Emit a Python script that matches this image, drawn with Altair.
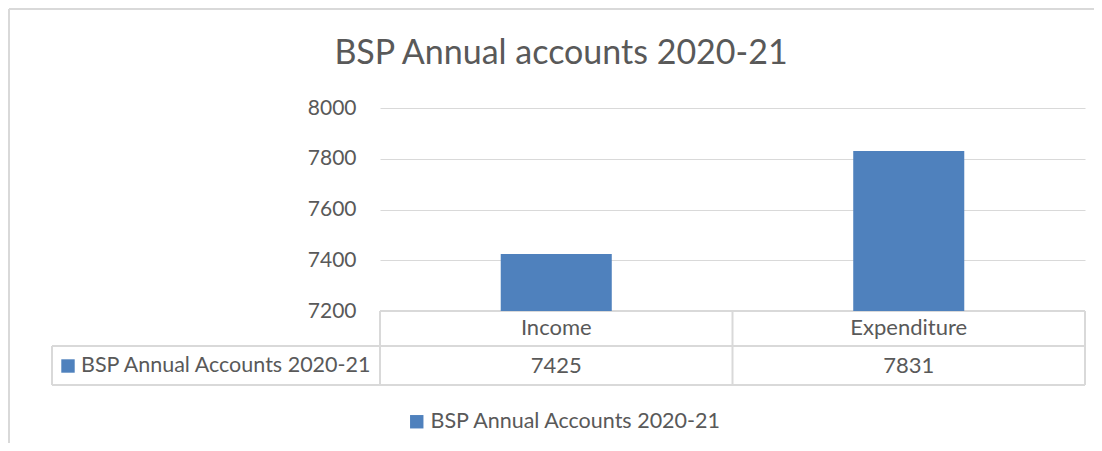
import altair as alt
import pandas as pd

categories = ["Income", "Expenditure"]
values = [7425, 7831]
series_name = "BSP Annual Accounts 2020-21"
title_text = "BSP Annual accounts 2020-21"
y_ticks = [7200, 7400, 7600, 7800, 8000]

FONT = "Lato"
TXT = "#595959"
GRID = "#d9d9d9"
BAR = "#4f81bd"

W, H = 705, 203

df = pd.DataFrame({"category": categories, "value": values,
                   "series": [series_name] * len(categories)})
df["label"] = df["value"].astype(str)

base = alt.Chart(df)
xsc = alt.Scale(domain=categories, paddingInner=0, paddingOuter=0)
one = pd.DataFrame({"a": [0]})

bars = base.mark_bar(width=alt.RelativeBandSize(0.315), clip=True).encode(
    x=alt.X("category:N", scale=xsc, axis=None, sort=categories),
    y=alt.Y("value:Q", scale=alt.Scale(domain=[7200, 8000], nice=False, zero=False),
            axis=alt.Axis(values=y_ticks, format="d", title=None, grid=True, gridColor=GRID,
                          gridWidth=1, domain=False, ticks=False, labelFontSize=21,
                          labelColor=TXT, labelFont=FONT, labelPadding=24)),
    color=alt.Color("series:N", scale=alt.Scale(range=[BAR]),
                    legend=alt.Legend(title=None, orient="none", legendX=26, legendY=303,
                                      symbolType="square", symbolSize=180,
                                      symbolStrokeWidth=0, labelFontSize=21.5,
                                      labelFont=FONT, labelColor=TXT, labelOffset=3,
                                      labelLimit=500, padding=0)),
)

def rule(x1, x2, y1, y2):
    return alt.Chart(one).mark_rule(color=GRID, strokeWidth=2).encode(
        x=alt.value(x1), x2=alt.value(x2), y=alt.value(y1), y2=alt.value(y2))

lines = [
    rule(0, W, 203, 203), rule(-328, W, 238, 238), rule(-328, W, 277, 277),
    rule(0, 0, 203, 277), rule(W / 2, W / 2, 203, 277), rule(W, W, 203, 277),
    rule(-328, -328, 238, 277),
    rule(-371, 800, -99, -99), rule(-371, -371, -99, 400),
]

header = base.mark_text(font=FONT, fontSize=22, color=TXT, baseline="middle").encode(
    x=alt.X("category:N", scale=xsc, sort=categories), y=alt.value(220), text="category:N")
cells = base.mark_text(font=FONT, fontSize=22, color=TXT, baseline="middle").encode(
    x=alt.X("category:N", scale=xsc, sort=categories), y=alt.value(258), text="label:N")

rowlab = alt.Chart(pd.DataFrame({"t": [series_name]})).mark_text(
    font=FONT, fontSize=21.5, color=TXT, align="left", baseline="middle").encode(
    x=alt.value(-299), y=alt.value(258), text="t:N")
rowsw = alt.Chart(one).mark_square(
    size=180, color=BAR, opacity=1, filled=True).encode(x=alt.value(-312), y=alt.value(258))

title = alt.Chart(pd.DataFrame({"t": [title_text]})).mark_text(
    font=FONT, fontSize=34, color=TXT, align="center", baseline="alphabetic").encode(
    x=alt.value(181), y=alt.value(-44), text="t:N")

chart = alt.layer(*lines, bars, header, cells, rowsw, rowlab, title).properties(
    width=W, height=H,
    padding={"left": 372, "top": 100, "right": 9, "bottom": 132},
    autosize=alt.AutoSizeParams(type="none"),
).configure_view(stroke=None)

chart.save("out.html", embed_options={"renderer": "svg", "actions": False})
